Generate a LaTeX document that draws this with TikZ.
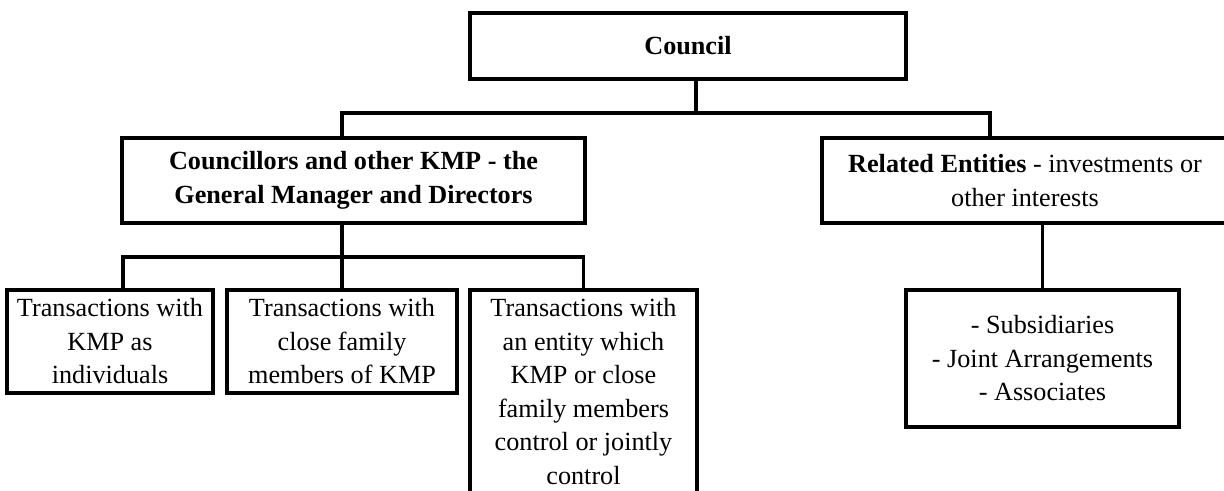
\documentclass[tikz,border=0pt]{standalone}
\usepackage{fontspec}
\setmainfont{Liberation Serif}
\begin{document}
\begin{tikzpicture}[x=0.5pt,y=-0.5pt,line width=1.6pt,
    box/.style={draw,align=center,inner sep=0pt,font=\fontsize{13.1pt}{16.75pt}\selectfont}]
				      \useasboundingbox (0,0) rectangle (1224,491);
				      \node[box,minimum width=218pt,minimum height=33pt](council) at (688,46){\textbf{Council}};
				      \node[box,minimum width=231.5pt,minimum height=42.5pt](kmp) at (353.5,180.5){\textbf{Councillors and other KMP - the}\\\textbf{General Manager and Directors}};
				      \node[box,minimum width=203pt,minimum height=42.5pt](related) at (1025,180.5){\textbf{Related Entities} - investments or\\other interests};
				      \node[box,minimum width=103pt,minimum height=51.5pt](indiv) at (110,341.5){Transactions with\\KMP as\\individuals};
				      \node[box,minimum width=115pt,minimum height=51.5pt](family) at (342,341.5){Transactions with\\close family\\members of KMP};
				      \node[box,minimum width=113.5pt,minimum height=101.5pt](entity) at (583.5,391.5){Transactions with\\an entity which\\KMP or close\\family members\\control or jointly\\control};
				      \node[box,minimum width=136.5pt,minimum height=68.5pt](subs) at (1042.5,358.5){- Subsidiaries\\- Joint Arrangements\\- Associates};
				      % bus lines
				      \coordinate (bus1) at (0,113);
				      \coordinate (bus2) at (0,257);
				      \coordinate (counout) at (696,0);
				      \coordinate (kmpin) at (342,0);
				      \coordinate (relin) at (990,0);
				      \coordinate (indin) at (123,0);
				      \draw (council.south -| counout) -- (bus1 -| counout);
				      \draw (kmp.north -| kmpin) -- (bus1 -| kmpin) -- (bus1 -| relin) -- (related.north -| relin);
				      \draw (kmp.south -| kmpin) -- (family.north);
				      \draw (indiv.north -| indin) |- (bus2 -| entity.north) -- (entity.north);
				      \draw (related.south -| subs.north) -- (subs.north);
			      \end{tikzpicture}
\end{document}
